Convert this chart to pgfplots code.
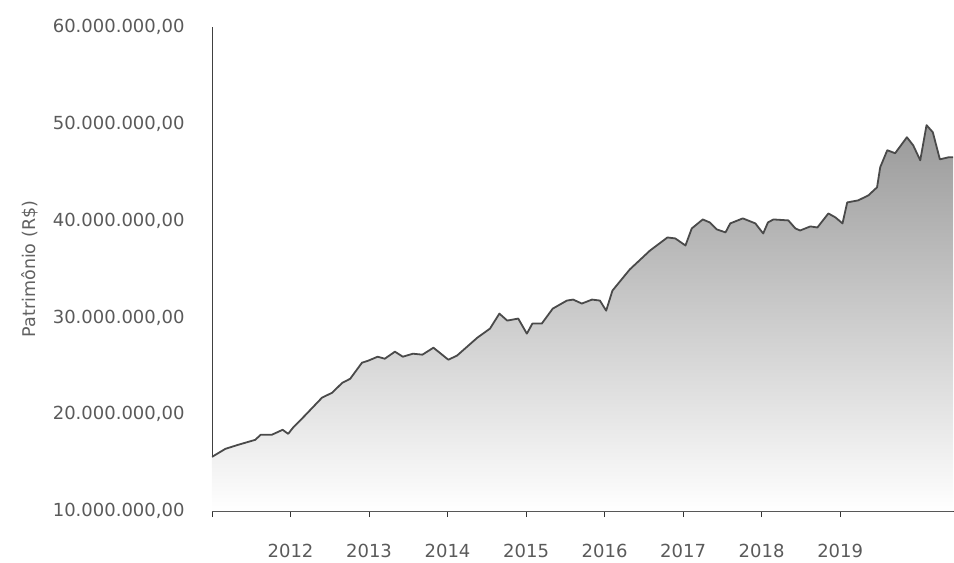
\documentclass[border=0pt]{standalone}
\usepackage{pgfplots}
\pgfplotsset{compat=1.18}
\usepackage{pgfplotstable}
\usepackage{fontspec}
\setmainfont{DejaVu Sans}
\definecolor{linegray}{HTML}{4A4A4A}
\definecolor{labgray}{HTML}{5A5A5A}

\pgfplotstableread{
x y
2011.00 15.59
2011.17 16.42
2011.33 16.83
2011.55 17.35
2011.62 17.87
2011.76 17.87
2011.90 18.39
2011.97 17.97
2012.03 18.59
2012.18 19.83
2012.40 21.70
2012.53 22.22
2012.66 23.25
2012.76 23.66
2012.91 25.32
2012.99 25.53
2013.11 25.94
2013.20 25.73
2013.33 26.46
2013.43 25.94
2013.56 26.25
2013.68 26.15
2013.82 26.87
2014.01 25.63
2014.12 26.05
2014.38 27.91
2014.54 28.84
2014.66 30.39
2014.76 29.67
2014.90 29.88
2015.01 28.32
2015.08 29.36
2015.20 29.36
2015.34 30.91
2015.52 31.74
2015.60 31.84
2015.71 31.43
2015.84 31.84
2015.94 31.74
2016.02 30.70
2016.10 32.77
2016.32 34.95
2016.58 36.92
2016.80 38.26
2016.90 38.16
2017.03 37.43
2017.11 39.19
2017.25 40.12
2017.34 39.81
2017.43 39.09
2017.54 38.78
2017.60 39.71
2017.76 40.23
2017.92 39.71
2018.02 38.67
2018.08 39.81
2018.15 40.12
2018.34 40.02
2018.43 39.19
2018.49 38.98
2018.62 39.40
2018.71 39.29
2018.85 40.74
2018.94 40.33
2019.03 39.71
2019.09 41.88
2019.23 42.09
2019.36 42.61
2019.47 43.44
2019.51 45.51
2019.60 47.27
2019.70 46.96
2019.85 48.61
2019.93 47.78
2020.02 46.23
2020.10 49.86
2020.18 49.13
2020.27 46.33
2020.38 46.54
2020.44 46.54
}\patrimonio

\pgfplotstableread{
x y
2011.00 10
2011.00 15.59
2011.17 16.42
2011.33 16.83
2011.55 17.35
2011.62 17.87
2011.76 17.87
2011.90 18.39
2011.97 17.97
2012.03 18.59
2012.18 19.83
2012.40 21.70
2012.53 22.22
2012.66 23.25
2012.76 23.66
2012.91 25.32
2012.99 25.53
2013.11 25.94
2013.20 25.73
2013.33 26.46
2013.43 25.94
2013.56 26.25
2013.68 26.15
2013.82 26.87
2014.01 25.63
2014.12 26.05
2014.38 27.91
2014.54 28.84
2014.66 30.39
2014.76 29.67
2014.90 29.88
2015.01 28.32
2015.08 29.36
2015.20 29.36
2015.34 30.91
2015.52 31.74
2015.60 31.84
2015.71 31.43
2015.84 31.84
2015.94 31.74
2016.02 30.70
2016.10 32.77
2016.32 34.95
2016.58 36.92
2016.80 38.26
2016.90 38.16
2017.03 37.43
2017.11 39.19
2017.25 40.12
2017.34 39.81
2017.43 39.09
2017.54 38.78
2017.60 39.71
2017.76 40.23
2017.92 39.71
2018.02 38.67
2018.08 39.81
2018.15 40.12
2018.34 40.02
2018.43 39.19
2018.49 38.98
2018.62 39.40
2018.71 39.29
2018.85 40.74
2018.94 40.33
2019.03 39.71
2019.09 41.88
2019.23 42.09
2019.36 42.61
2019.47 43.44
2019.51 45.51
2019.60 47.27
2019.70 46.96
2019.85 48.61
2019.93 47.78
2020.02 46.23
2020.10 49.86
2020.18 49.13
2020.27 46.33
2020.38 46.54
2020.44 46.54
2020.44 10
}\patrimoniofill

\begin{document}
\begin{tikzpicture}
\begin{axis}[
  at={(0,0)}, anchor=south west,
  scale only axis,
  width=742bp, height=484bp,
  xmin=2011, xmax=2020.45,
  ymin=10, ymax=60,
  axis x line=bottom, axis y line=left,
  axis line style={-, draw=black!75, line width=0.8bp},
  xtick={2011,2012,2013,2014,2015,2016,2017,2018,2019},
  xticklabels={,2012,2013,2014,2015,2016,2017,2018,2019},
  ytick={10,20,30,40,50,60},
  yticklabels={{10.000.000,00},{20.000.000,00},{30.000.000,00},{40.000.000,00},{50.000.000,00},{60.000.000,00}},
  tick align=outside,
  major tick length=6bp,
  x tick style={draw=black!80, line width=0.8bp},
  y tick style={draw=none},
  /pgf/number format/assume math mode=true,
  tick label style={font=\fontsize{18bp}{21bp}\selectfont, text=labgray},
  xticklabel style={yshift=-24bp},
  yticklabel style={xshift=-18bp},
  every axis y label/.style={at={(axis description cs:0,0.5)}, xshift=-182bp, anchor=center, rotate=90, font=\fontsize{17.5bp}{20bp}\selectfont, text=black!62},
  ylabel={Patrimônio (R\$)},
  clip=true,
]
\addplot[draw=none, top color=black!40, middle color=black!20, bottom color=white] table[x=x,y=y] {\patrimoniofill} -- cycle;
\addplot[color=linegray, line width=1.8bp, line join=round, mark=none] table[x=x,y=y] {\patrimonio};
\end{axis}
\pgfresetboundingbox
\path[use as bounding box] (-212bp,-52bp) rectangle (742bp,511bp);
\end{tikzpicture}
\end{document}
